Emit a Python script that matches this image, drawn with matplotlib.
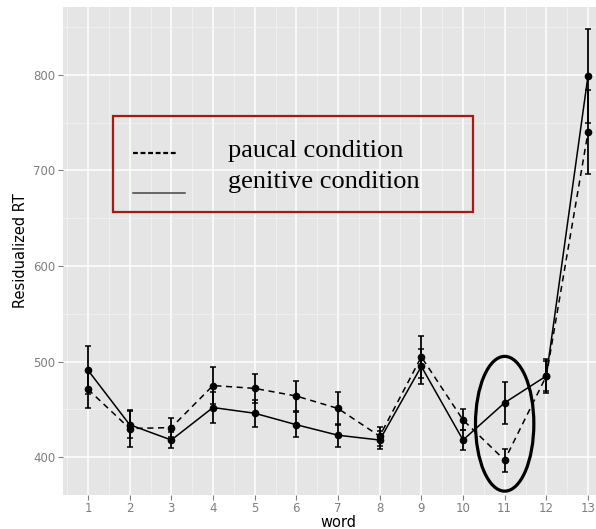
import numpy as np
import matplotlib.pyplot as plt
from matplotlib.patches import Ellipse, Rectangle
from matplotlib.lines import Line2D

# word positions
words = [1, 2, 3, 4, 5, 6, 7, 8, 9, 10, 11, 12, 13]

# paucal condition (dashed)
paucal_rt = [471, 430, 431, 475, 472, 464, 451, 422, 505, 439, 397, 485, 740]
paucal_se = [19, 19, 10, 19, 15, 16, 17, 10, 22, 11, 12, 16, 44]

# genitive condition (solid)
genitive_rt = [491, 434, 418, 452, 446, 434, 423, 418, 495, 418, 457, 485, 799]
genitive_se = [25, 14, 8, 16, 14, 13, 12, 9, 18, 10, 22, 18, 49]

legend_labels = ["paucal condition", "genitive condition"]

fig = plt.figure(figsize=(5.96, 5.29), dpi=100)
ax = fig.add_axes([63 / 596, 1 - 494.5 / 529, (613 - 63) / 596, (494.5 - 7) / 529])

ax.set_facecolor("#E5E5E5")
for s in ax.spines.values():
    s.set_visible(False)

ax.set_xlim(0.4, 13.6)
ax.set_ylim(361, 871)
ax.set_xticks(words)
ax.set_xticks(np.arange(0.5, 14, 1), minor=True)
ax.set_yticks([400, 500, 600, 700, 800])
ax.set_yticks([450, 550, 650, 750, 850], minor=True)
ax.grid(True, which="major", color="white", lw=1.1)
ax.grid(True, which="minor", color="#F2F2F2", lw=0.6)
ax.set_axisbelow(True)
ax.tick_params(which="major", colors="#7F7F7F", labelcolor="#7F7F7F",
               labelsize=8.5, length=3.5, width=0.8, pad=2)
ax.tick_params(which="minor", length=0)

ax.errorbar(words, paucal_rt, yerr=paucal_se, fmt="o", color="black",
            ms=4.5, capsize=2.5, elinewidth=1.3, capthick=1.1, zorder=3)
ax.errorbar(words, genitive_rt, yerr=genitive_se, fmt="o", color="black",
            ms=4.5, capsize=2.5, elinewidth=1.3, capthick=1.1, zorder=3)
ax.plot(words, paucal_rt, color="black", ls=(0, (4, 3)), lw=1.1, zorder=2)
ax.plot(words, genitive_rt, color="black", ls="-", lw=1.1, zorder=2)

ax.add_patch(Ellipse((11, 435), 1.4, 141, fill=False, ec="black", lw=2.3, zorder=4))

ax.set_xlabel("word", fontsize=10.5, labelpad=0)
ax.set_ylabel("Residualized RT", fontsize=10.5, labelpad=4)

# legend box drawn in figure pixels
W, H = 596, 529
fig.add_artist(Rectangle((112.7 / W, 1 - 211.7 / H), (472.7 - 112.7) / W, (211.7 - 116.3) / H,
                         transform=fig.transFigure, fill=False, ec="#A51C14", lw=1.6))
fig.add_artist(Line2D([132.7 / W, 175.7 / W], [1 - 152.7 / H] * 2, transform=fig.transFigure,
                      color="black", lw=1.6, ls=(0, (2.2, 1.2))))
fig.add_artist(Line2D([132.7 / W, 185 / W], [1 - 192.7 / H] * 2, transform=fig.transFigure,
                      color="#444444", lw=1.1))
fig.text(228 / W, 1 - 151 / H, legend_labels[0], family="Liberation Serif",
         fontsize=19, va="center", ha="left")
fig.text(228 / W, 1 - 182 / H, legend_labels[1], family="Liberation Serif",
         fontsize=19, va="center", ha="left")

fig.savefig("out.png", dpi=100)
